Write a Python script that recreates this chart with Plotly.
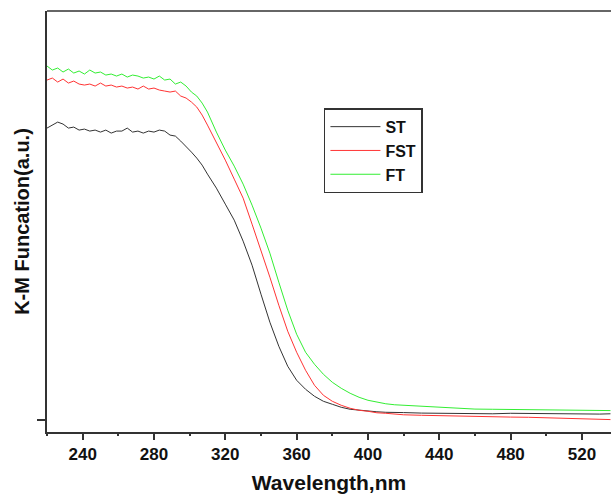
import plotly.graph_objects as go

wavelength = [220, 223, 226, 229, 232, 235, 238, 241, 244, 247, 250, 253, 256, 259, 262, 265,
              268, 271, 274, 277, 280, 283, 286, 289, 292, 295, 298, 301, 304, 307, 310,
              315, 320, 325, 330, 335, 340, 345, 350, 355, 360, 365, 370, 375, 380, 385,
              390, 395, 400, 405, 410, 415, 420, 430, 440, 450, 460, 470, 480, 490, 500,
              510, 520, 530, 536]

st = [2.92, 2.95, 2.98, 2.96, 2.92, 2.93, 2.90, 2.91, 2.89, 2.90, 2.88, 2.90, 2.87, 2.89, 2.89, 2.92,
      2.88, 2.89, 2.87, 2.89, 2.88, 2.90, 2.89, 2.85, 2.84, 2.79, 2.74, 2.68, 2.62, 2.55, 2.46,
      2.32, 2.16, 2.00, 1.79, 1.55, 1.26, 0.98, 0.74, 0.54, 0.40, 0.31, 0.24, 0.19, 0.16, 0.13,
      0.11, 0.10, 0.09, 0.085, 0.08, 0.08, 0.077, 0.072, 0.07, 0.067, 0.065, 0.065, 0.07, 0.067, 0.065,
      0.065, 0.065, 0.062, 0.065]

fst = [3.40, 3.42, 3.38, 3.41, 3.37, 3.39, 3.36, 3.35, 3.36, 3.34, 3.37, 3.34, 3.35, 3.33, 3.34, 3.32,
       3.33, 3.31, 3.34, 3.31, 3.32, 3.30, 3.29, 3.28, 3.29, 3.24, 3.22, 3.18, 3.13, 3.05, 2.95,
       2.78, 2.60, 2.41, 2.22, 1.96, 1.70, 1.43, 1.15, 0.89, 0.68, 0.50, 0.35, 0.25, 0.19, 0.15,
       0.12, 0.10, 0.09, 0.075, 0.07, 0.06, 0.055, 0.05, 0.045, 0.04, 0.037, 0.035, 0.032, 0.03, 0.025,
       0.02, 0.015, 0.01, 0.007]

ft = [3.54, 3.50, 3.52, 3.48, 3.51, 3.47, 3.49, 3.46, 3.50, 3.47, 3.48, 3.45, 3.46, 3.44, 3.46, 3.43,
      3.45, 3.44, 3.42, 3.43, 3.41, 3.44, 3.40, 3.41, 3.36, 3.38, 3.34, 3.28, 3.24, 3.17, 3.08,
      2.88, 2.70, 2.54, 2.36, 2.15, 1.92, 1.67, 1.38, 1.10, 0.86, 0.68, 0.56, 0.46, 0.38, 0.32,
      0.27, 0.23, 0.20, 0.18, 0.165, 0.155, 0.15, 0.135, 0.125, 0.117, 0.112, 0.11, 0.107, 0.105, 0.102,
      0.10, 0.10, 0.098, 0.097]

series_names = ["ST", "FST", "FT"]
series_colors = ["#333333", "#ff3333", "#33ee33"]
major_ticks = [240, 280, 320, 360, 400, 440, 480, 520]
minor_ticks = [220, 260, 300, 340, 380, 420, 460, 500]

FONT = "Liberation Sans, Arial, sans-serif"
AX = "#333333"
XRANGE = [220, 536.3]

fig = go.Figure()
for name, vals, col in zip(series_names, [st, fst, ft], series_colors):
    fig.add_trace(go.Scatter(x=wavelength, y=vals, mode="lines", name=name,
                             line=dict(color=col, width=1)))
# empty helper trace so the minor-tick axis gets drawn
fig.add_trace(go.Scatter(x=[None], y=[None], xaxis="x2", yaxis="y", mode="lines",
                         showlegend=False, hoverinfo="skip"))

fig.update_layout(
    width=611, height=494,
    margin=dict(l=47, r=0, t=11, b=62),
    paper_bgcolor="white", plot_bgcolor="white",
    showlegend=True,
    legend=dict(x=0.491, y=0.769, xanchor="left", yanchor="top",
                bordercolor=AX, borderwidth=1.5, bgcolor="white",
                itemwidth=50,
                font=dict(family=FONT, size=16, color="#111111", weight="bold")),
    xaxis=dict(range=XRANGE, tickvals=major_ticks,
               ticks="outside", ticklen=6,
               tickwidth=1.5, tickcolor=AX, showline=True, linecolor=AX, linewidth=1.5,
               showgrid=False, zeroline=False,
               tickfont=dict(family=FONT, size=17, color="#111111", weight="bold"),
               title=dict(text="Wavelength,nm", standoff=14,
                          font=dict(family=FONT, size=21, color="#111111", weight="bold"))),
    xaxis2=dict(range=XRANGE, overlaying="x", anchor="y", side="bottom",
                tickvals=minor_ticks, ticks="outside", ticklen=3, tickwidth=1.5,
                tickcolor=AX, showticklabels=False, showline=False,
                showgrid=False, zeroline=False),
    yaxis=dict(range=[-0.117, 4.09], tickvals=[0], ticktext=[""], ticks="outside", ticklen=8,
               tickwidth=1.5, tickcolor=AX, showline=True, linecolor=AX, linewidth=1.5,
               showgrid=False, zeroline=False,
               title=dict(text="K-M Funcation(a.u.)", standoff=0,
                          font=dict(family=FONT, size=20, color="#111111", weight="bold"))),
    shapes=[dict(type="line", xref="paper", yref="paper", x0=0, x1=1, y0=1, y1=1,
                 line=dict(color=AX, width=1.5))],
)

fig.write_html("out.html")
